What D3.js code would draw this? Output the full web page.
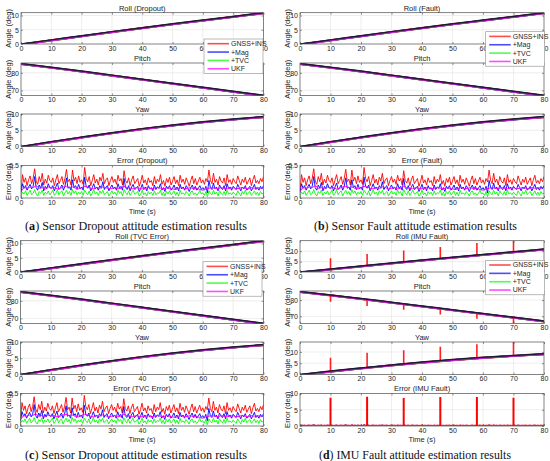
<!DOCTYPE html>
<html><head><meta charset="utf-8">
<script src="https://cdnjs.cloudflare.com/ajax/libs/d3/7.8.5/d3.min.js"></script>
<style>body{margin:0;background:#fff}svg{display:block}</style>
</head><body>
<svg id="c" width="550" height="461"></svg>
<script>
// ---------------- DATA ----------------
const timeTicks = [0, 10, 20, 30, 40, 50, 60, 70, 80];
const attTime = [0, 10, 20, 30, 40, 50, 60, 70, 80];
const rollTruth  = [0, 1.45, 2.9, 4.35, 5.75, 7.1, 8.4, 9.7, 11.0];
const pitchTruth = [85.3, 83.2, 81.0, 78.7, 76.4, 74.1, 71.8, 69.5, 67.2];
const yawTruth   = [0, 1.5, 2.9, 4.25, 5.5, 6.6, 7.6, 8.45, 9.2];

const seriesNames  = ["GNSS+INS", "+Mag", "+TVC", "UKF"];
const seriesColors = ["#ff0000", "#0000ff", "#00ff00", "#ff00ff"];

// error samples every 0.5 s (0 .. 80 s)
const errRed = [
 .10,.36,.24,.31,.19,.28,.34,.22,.30,.45,.26,.21,.33,.25,.38,.20,.29,.23,.35,.27,
 .24,.31,.19,.28,.36,.22,.27,.33,.21,.30,.44,.25,.29,.20,.43,.26,.32,.22,.34,.24,
 .28,.21,.47,.30,.25,.33,.19,.27,.36,.23,.29,.20,.32,.26,.38,.22,.28,.31,.19,.27,
 .33,.24,.29,.21,.35,.26,.30,.20,.42,.27,.23,.31,.19,.28,.34,.22,.26,.30,.18,.25,
 .35,.23,.28,.20,.31,.24,.27,.19,.33,.22,.29,.25,.36,.21,.27,.18,.30,.24,.32,.20,
 .26,.33,.22,.28,.19,.35,.24,.29,.21,.31,.25,.18,.27,.34,.22,.30,.20,.26,.32,.23,
 .28,.21,.30,.25,.43,.27,.22,.38,.24,.29,.20,.33,.26,.23,.31,.19,.36,.24,.28,.21,
 .30,.25,.22,.34,.27,.20,.29,.24,.32,.21,.26,.31,.19,.28,.35,.23,.27,.22,.30,.25,
 .33];
const errBlue = [
 .08,.22,.15,.19,.12,.17,.21,.14,.18,.33,.16,.12,.20,.15,.24,.11,.18,.14,.22,.16,
 .15,.19,.11,.17,.23,.13,.16,.20,.12,.18,.31,.15,.17,.12,.28,.16,.19,.13,.21,.14,
 .17,.12,.32,.18,.15,.20,.11,.16,.22,.14,.17,.12,.19,.15,.25,.13,.17,.19,.11,.16,
 .20,.14,.17,.12,.22,.15,.18,.12,.30,.16,.13,.19,.11,.17,.21,.13,.15,.18,.10,.15,
 .21,.13,.17,.11,.19,.14,.16,.11,.20,.13,.17,.15,.22,.12,.16,.10,.18,.14,.19,.12,
 .15,.20,.13,.17,.11,.21,.14,.17,.12,.19,.15,.10,.16,.20,.13,.18,.12,.15,.19,.13,
 .16,.12,.18,.08,.27,.16,.13,.23,.14,.17,.11,.20,.15,.13,.19,.11,.22,.14,.17,.12,
 .18,.15,.13,.21,.16,.11,.17,.14,.19,.12,.15,.18,.11,.16,.21,.13,.16,.12,.18,.14,
 .19];
const errGreen = [
 .03,.09,.06,.11,.04,.08,.12,.05,.07,.13,.06,.03,.10,.07,.12,.04,.09,.06,.11,.05,
 .08,.12,.04,.07,.13,.05,.09,.11,.03,.08,.12,.06,.10,.04,.13,.07,.11,.05,.09,.06,
 .10,.04,.12,.08,.05,.11,.03,.07,.13,.06,.09,.04,.11,.07,.12,.05,.08,.10,.03,.07,
 .11,.06,.09,.04,.12,.07,.10,.03,.13,.08,.05,.11,.04,.08,.12,.06,.07,.10,.03,.06,
 .12,.05,.08,.03,.10,.06,.09,.04,.11,.05,.08,.07,.12,.04,.09,.03,.10,.06,.11,.05,
 .07,.11,.04,.09,.03,.12,.06,.08,.05,.10,.07,.03,.09,.11,.05,.08,.04,.07,.12,.06,
 .08,.04,.10,.02,.11,.07,.05,.12,.06,.09,.03,.11,.07,.05,.10,.04,.12,.06,.08,.05,
 .09,.06,.04,.11,.07,.03,.10,.06,.12,.05,.08,.10,.04,.07,.11,.05,.09,.04,.10,.06,
 .08];
// UKF error every 1 s (0 .. 80 s)
const errMagenta = [
 .10,.16,.15,.17,.16,.19,.15,.16,.14,.17,.15,.16,.14,.15,.17,.18,.16,.17,.15,.14,
 .16,.18,.17,.15,.14,.16,.15,.17,.16,.14,.15,.16,.14,.15,.18,.16,.15,.14,.16,.15,
 .14,.15,.16,.14,.15,.16,.15,.14,.16,.15,.14,.13,.15,.16,.14,.15,.16,.14,.15,.13,
 .12,.14,.15,.16,.15,.14,.16,.15,.14,.15,.16,.14,.15,.16,.15,.14,.16,.15,.16,.15,
 .17];

// IMU fault spikes (GNSS+INS only)
const spikeTimes      = [10, 22, 34, 46, 58, 70];
const rollSpikePeak   = [6.6, 8.6, 10.3, 12.0, 13.9, 15.0];
const pitchSpikeLow   = [79.0, 76.4, 74.0, 71.2, 68.6, 65.6];
const yawSpikePeak    = [7.4, 9.6, 10.8, 12.3, 13.4, 14.4];
const errSpikePeak    = [8.7, 9.0, 8.6, 8.9, 8.9, 8.7];

// ---------------- LAYOUT ----------------
const panels = [
  {letter:"a", rest:" Sensor Dropout attitude estimation results", rollT:"Roll (Dropout)", errT:"Error (Dropout)",
   x0:21, x1:263.5, yOff:0, capX:136, capW:222, capY:229.5, leg:[204,39], ylx:8.5, fault:false},
  {letter:"b", rest:" Sensor Fault attitude estimation results", rollT:"Roll (Fault)", errT:"Error (Fault)",
   x0:300, x1:544, yOff:0, capX:415.5, capW:203, capY:229.5, leg:[485.7,31.7], ylx:287, fault:false},
  {letter:"c", rest:" Sensor Dropout attitude estimation results", rollT:"Roll (TVC Error)", errT:"Error (TVC Error)",
   x0:20.5, x1:263.5, yOff:228, capX:136, capW:222, capY:459, leg:[203,261.7], ylx:8, fault:false},
  {letter:"d", rest:" IMU Fault attitude estimation results", rollT:"Roll (IMU Fault)", errT:"Error (IMU Fault)",
   x0:300, x1:544, yOff:228, capX:415, capW:192, capY:459, leg:[485.7,260.3], ylx:287, fault:true}
];
const LEG_W = 59, LEG_H = 34.5;

const SANS = "Liberation Sans, Arial, Helvetica, sans-serif";
const svg = d3.select("#c");
let clipId = 0;
const errTime = errRed.map((_, i) => i * 0.5);
const magTime = errMagenta.map((_, i) => i);
const fmt = d3.format("~g");

function interp(xs, ys, t) {
  const i = Math.min(xs.length - 2, Math.max(0, d3.bisectRight(xs, t) - 1));
  const f = (t - xs[i]) / (xs[i + 1] - xs[i]);
  return ys[i] + f * (ys[i + 1] - ys[i]);
}

function drawSub(g, x, sp) {
  const y = d3.scaleLinear().domain(sp.domain).range([sp.bottom, sp.top]);
  const id = "clip" + (clipId++);
  g.append("clipPath").attr("id", id).append("rect")
    .attr("x", x.range()[0]).attr("y", sp.top)
    .attr("width", x.range()[1] - x.range()[0]).attr("height", sp.bottom - sp.top);
  const grid = g.append("g").attr("stroke", "#e2e2e2").attr("stroke-width", 0.6);
  timeTicks.slice(1, -1).forEach(t => grid.append("line")
    .attr("x1", x(t)).attr("x2", x(t)).attr("y1", sp.top).attr("y2", sp.bottom));
  sp.ticks.forEach(v => { if (y(v) > sp.top + 0.5 && y(v) < sp.bottom - 0.5)
    grid.append("line").attr("x1", x.range()[0]).attr("x2", x.range()[1]).attr("y1", y(v)).attr("y2", y(v)); });

  const plot = g.append("g").attr("clip-path", `url(#${id})`);
  sp.draw(plot, x, y);

  g.append("rect").attr("x", x.range()[0]).attr("y", sp.top)
    .attr("width", x.range()[1] - x.range()[0]).attr("height", sp.bottom - sp.top)
    .attr("fill", "none").attr("stroke", "#4d4d4d").attr("stroke-width", 0.7);

  const style = a => { a.select(".domain").remove();
    a.selectAll("line").attr("stroke", "#4d4d4d").attr("stroke-width", 0.6);
    a.selectAll("text").attr("fill", "#262626").style("font-family", SANS).style("font-size", "7px"); };
  const xb = g.append("g").attr("class", "xb").attr("transform", `translate(0,${sp.bottom})`)
    .call(d3.axisBottom(x).tickValues(timeTicks).tickSize(-2).tickPadding(2).tickFormat(fmt)).call(style);
  g.append("g").attr("transform", `translate(0,${sp.top})`)
    .call(d3.axisTop(x).tickValues(timeTicks).tickSize(-2).tickFormat("")).call(style);
  g.append("g").attr("transform", `translate(${x.range()[0]},0)`)
    .call(d3.axisLeft(y).tickValues(sp.ticks).tickSize(-2).tickPadding(2).tickFormat(fmt)).call(style);
  g.append("g").attr("transform", `translate(${x.range()[1]},0)`)
    .call(d3.axisRight(y).tickValues(sp.ticks).tickSize(-2).tickFormat("")).call(style);

  const cx = (x.range()[0] + x.range()[1]) / 2;
  g.append("text").attr("x", cx).attr("y", sp.top - 2.2).attr("text-anchor", "middle")
    .style("font-family", SANS).style("font-size", "7.5px").attr("fill", "#1a1a1a").text(sp.title);
  g.append("text").attr("transform", `translate(${sp.ylx},${(sp.top + sp.bottom) / 2}) rotate(-90)`)
    .attr("text-anchor", "middle").attr("dy", "0.35em")
    .style("font-family", SANS).style("font-size", "7.5px").attr("fill", "#262626").text(sp.ylabel);
  if (sp.xlabel) g.append("text").attr("x", cx).attr("y", sp.bottom + 15.5).attr("text-anchor", "middle")
    .style("font-family", SANS).style("font-size", "7.5px").attr("fill", "#262626").text(sp.xlabel);
  return xb;
}

function attitudeDraw(truth, spikes) {
  return (plot, x, y) => {
    const line = d3.line().x((d, i) => x(attTime[i])).y(d => y(d)).curve(d3.curveMonotoneX);
    const under = plot.append("g").attr("transform", "translate(0,0.5)");
    const widths = [2.1, 1.8, 1.6, 1.6];
    seriesColors.forEach((c, k) => under.append("path").datum(truth).attr("d", line)
      .attr("fill", "none").attr("stroke", c).attr("stroke-width", widths[k]));
    if (spikes) {
      spikeTimes.forEach((t, i) => plot.append("line")
        .attr("x1", x(t)).attr("x2", x(t))
        .attr("y1", y(interp(attTime, truth, t))).attr("y2", y(spikes[i]))
        .attr("stroke", "#ff2020").attr("stroke-width", 1.6));
    }
    plot.append("path").datum(truth).attr("d", line)
      .attr("fill", "none").attr("stroke", "#1e1c34").attr("stroke-width", 1.5);
  };
}

function errorDraw(fault) {
  return (plot, x, y) => {
    const l = ts => d3.line().x((d, i) => x(ts[i])).y(d => y(d));
    const sw = fault ? 0.7 : 0.9;
    plot.append("path").datum(errRed).attr("d", l(errTime)).attr("fill", "none").attr("stroke", seriesColors[0]).attr("stroke-width", sw);
    plot.append("path").datum(errBlue).attr("d", l(errTime)).attr("fill", "none").attr("stroke", seriesColors[1]).attr("stroke-width", sw);
    plot.append("path").datum(errGreen).attr("d", l(errTime)).attr("fill", "none").attr("stroke", seriesColors[2]).attr("stroke-width", sw);
    plot.append("path").datum(errMagenta).attr("d", l(magTime)).attr("fill", "none").attr("stroke", seriesColors[3]).attr("stroke-width", 1);
    if (fault) spikeTimes.forEach((t, i) => plot.append("line")
      .attr("x1", x(t)).attr("x2", x(t)).attr("y1", y(0)).attr("y2", y(errSpikePeak[i]))
      .attr("stroke", "#ff0000").attr("stroke-width", 2));
  };
}

panels.forEach(p => {
  const g = svg.append("g");
  const x = d3.scaleLinear().domain([0, 80]).range([p.x0, p.x1]);
  const o = p.yOff;
  const f = p.fault;
  const subs = [
    {title:p.rollT, ylabel:"Angle (deg)", top:12.7 + o, bottom:44 + o,
     domain: f ? [0, 15] : [0, 11], ticks:[0, 5, 10],
     draw: attitudeDraw(rollTruth, f ? rollSpikePeak : null)},
    {title:"Pitch", ylabel:"Angle (deg)", top:63 + o, bottom:95.5 + o,
     domain: f ? [65.6, 85.6] : [67.1, 85.6], ticks:[70, 80],
     draw: attitudeDraw(pitchTruth, f ? pitchSpikeLow : null)},
    {title:"Yaw", ylabel:"Angle (deg)", top:114 + o, bottom:146.5 + o,
     domain: f ? [0, 14.4] : [0, 10], ticks:[0, 5, 10],
     draw: attitudeDraw(yawTruth, f ? yawSpikePeak : null)},
    {title:p.errT, ylabel:"Error (deg)", xlabel:"Time (s)", top:165.5 + o, bottom:198 + o,
     domain: f ? [0, 10] : [0, 0.5], ticks: f ? [0, 5, 10] : [0, 0.5],
     draw: errorDraw(f)}
  ];
  const axes = subs.map(sp => { sp.ylx = p.ylx; return drawSub(g, x, sp); });

  const [lx, ly] = p.leg;
  // tick labels of the roll plot lying entirely under the legend are hidden by it
  axes[0].selectAll(".tick text").each(function () {
    const b = this.getBBox(), m = this.parentNode.transform.baseVal.consolidate().matrix;
    const gx = m.e + b.x, gy = ly + 0;
    const ay = o + 44 + b.y;
    if (gx >= lx && gx + b.width <= lx + LEG_W && ay >= ly && ay + b.height <= ly + LEG_H) d3.select(this).remove();
  });

  const lg = g.append("g").attr("transform", `translate(${lx},${ly})`);
  lg.append("rect").attr("width", LEG_W).attr("height", LEG_H).attr("fill", "#fff")
    .attr("stroke", "#8c8c8c").attr("stroke-width", 0.6);
  seriesNames.forEach((n, i) => {
    const yy = 4.7 + i * 8.35;
    lg.append("line").attr("x1", 3.5).attr("x2", 25).attr("y1", yy).attr("y2", yy)
      .attr("stroke", seriesColors[i]).attr("stroke-width", 1.6).attr("stroke-opacity", 0.7);
    lg.append("text").attr("x", 27).attr("y", yy).attr("dy", "0.35em")
      .style("font-family", SANS).style("font-size", "7px").attr("fill", "#262626").text(n);
  });

  const cap = g.append("text").attr("x", p.capX).attr("y", p.capY).attr("text-anchor", "middle")
    .style("font-family", "'Palatino Linotype','Book Antiqua','Liberation Serif','DejaVu Serif',serif")
    .style("font-size", "12.5px").attr("fill", "#111")
    .attr("textLength", p.capW).attr("lengthAdjust", "spacingAndGlyphs");
  cap.append("tspan").text("(");
  cap.append("tspan").attr("font-weight", "bold").text(p.letter);
  cap.append("tspan").text(")" + p.rest);
});
</script>
</body></html>
